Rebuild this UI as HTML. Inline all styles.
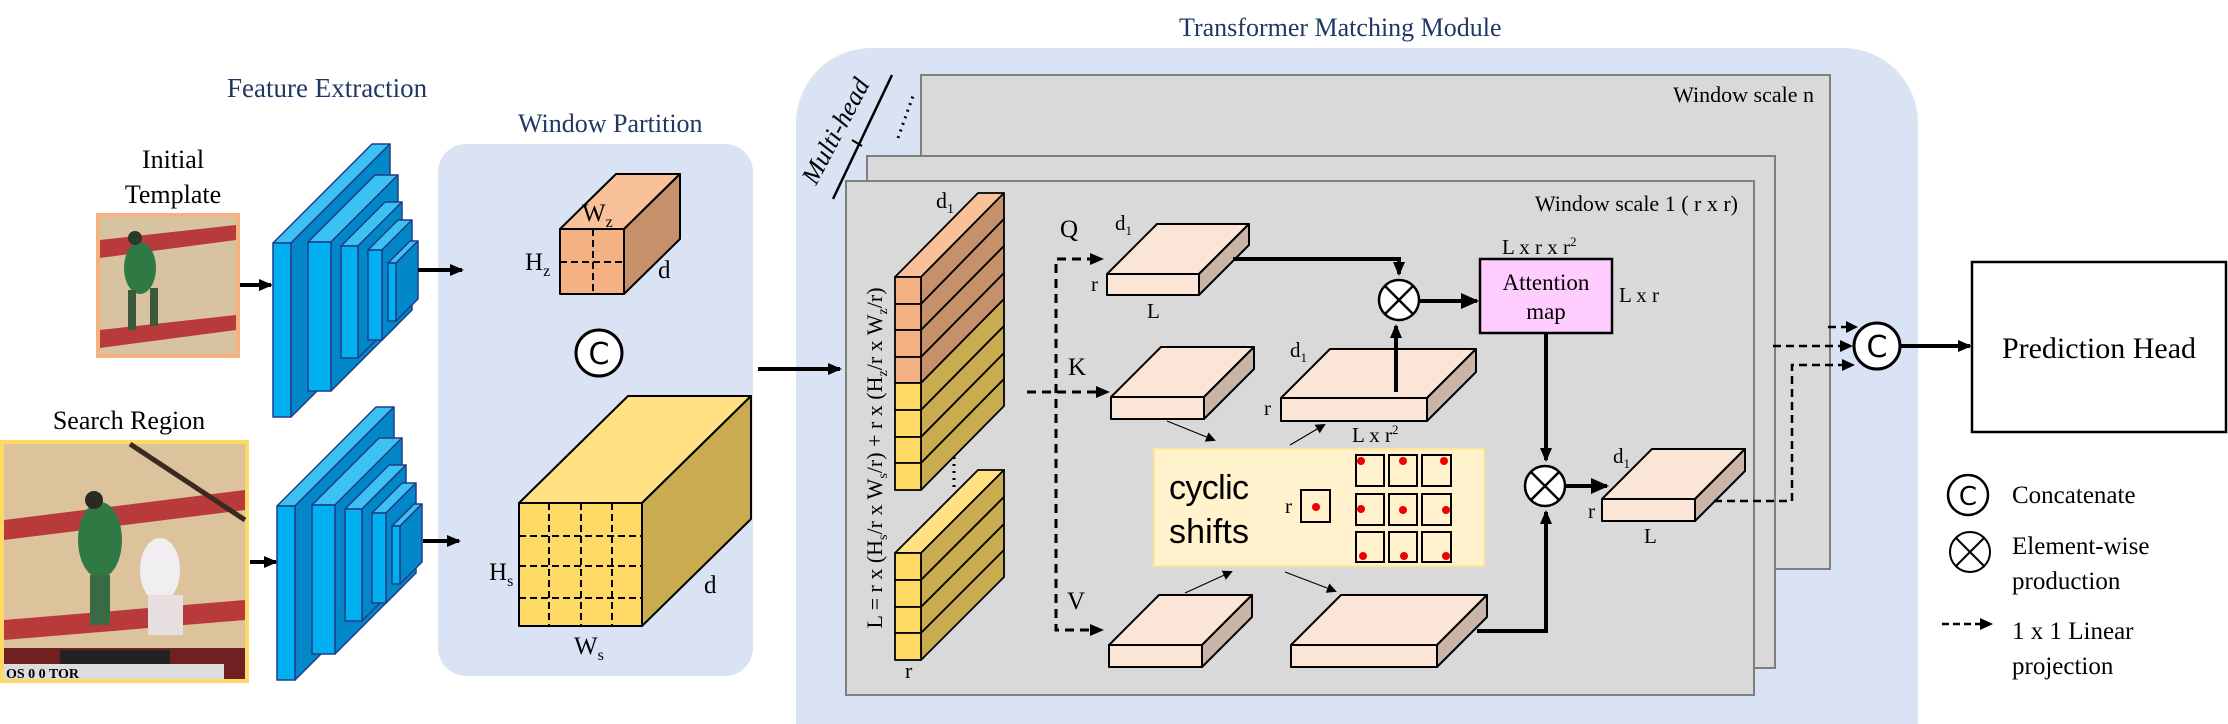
<!DOCTYPE html>
<html><head><meta charset="utf-8"><style>
html,body{margin:0;padding:0;background:#fff;}
svg{display:block;}
text{font-family:"Liberation Serif",serif;fill:#000;}
</style></head><body>
<svg width="2228" height="724" viewBox="0 0 2228 724" xmlns="http://www.w3.org/2000/svg">
<defs>
<marker id="ah" markerWidth="10" markerHeight="10" refX="8" refY="5" orient="auto" markerUnits="userSpaceOnUse"><path d="M0,0 L10,5 L0,10 z" fill="#000"/></marker>
<marker id="ahb" markerWidth="18" markerHeight="16" refX="16" refY="8" orient="auto" markerUnits="userSpaceOnUse"><path d="M0,0 L18,8 L0,16 z" fill="#000"/></marker>
<marker id="ahm" markerWidth="14" markerHeight="12" refX="12" refY="6" orient="auto" markerUnits="userSpaceOnUse"><path d="M0,0 L14,6 L0,12 z" fill="#000"/></marker>
</defs>

<!-- titles -->
<text x="227" y="97" font-size="27" style="fill:#1f3864">Feature Extraction</text>
<text x="518" y="132" font-size="26" style="fill:#1f3864">Window Partition</text>
<text x="1179" y="36" font-size="26" style="fill:#1f3864">Transformer Matching Module</text>

<!-- inputs -->
<text x="173" y="168" font-size="26" text-anchor="middle">Initial</text>
<text x="173" y="203" font-size="26" text-anchor="middle">Template</text>
<text x="129" y="429" font-size="26" text-anchor="middle">Search Region</text>

<!-- template photo -->
<g>
<rect x="96" y="213" width="144" height="145" fill="#f4b183"/>
<rect x="100" y="217" width="136" height="137" fill="#d8c3a0"/>
<polygon points="100,240 236,225 236,240 100,258" fill="#b83a3a"/>
<polygon points="100,330 236,315 236,330 100,348" fill="#b83a3a"/>
<ellipse cx="140" cy="268" rx="16" ry="26" fill="#2f7a44"/>
<circle cx="135" cy="238" r="7" fill="#2a3a2a"/>
<rect x="128" y="290" width="8" height="40" fill="#3a5a3a"/>
<rect x="150" y="288" width="8" height="38" fill="#3a5a3a"/>
</g>
<!-- search photo -->
<g>
<rect x="0" y="440" width="249" height="243" fill="#ffd966"/>
<rect x="4" y="444" width="241" height="235" fill="#dcc39c"/>
<polygon points="4,520 245,490 245,510 4,540" fill="#b83a3a"/>
<polygon points="4,620 245,600 245,620 4,640" fill="#b83a3a"/>
<line x1="130" y1="444" x2="245" y2="520" stroke="#3a2a20" stroke-width="5"/>
<ellipse cx="100" cy="540" rx="22" ry="38" fill="#2f7a44"/>
<circle cx="94" cy="500" r="9" fill="#2a2a20"/>
<rect x="90" y="575" width="20" height="50" fill="#3a6a44"/>
<ellipse cx="160" cy="570" rx="20" ry="32" fill="#f0eef0"/>
<rect x="148" y="595" width="35" height="40" fill="#e8e0e0"/>
<rect x="4" y="648" width="241" height="31" fill="#702020"/>
<rect x="60" y="650" width="110" height="14" fill="#222"/>
<rect x="4" y="664" width="220" height="15" fill="#ddd"/>
<text x="6" y="678" font-size="14" font-weight="bold">OS  0    0  TOR</text>
</g>

<!-- arrows inputs -->
<line x1="240" y1="285" x2="271" y2="285" stroke="#000" stroke-width="4" marker-end="url(#ahm)"/>
<line x1="250" y1="562" x2="276" y2="562" stroke="#000" stroke-width="4" marker-end="url(#ahm)"/>

<!-- CNN 1 -->
<g stroke="#1f3c88" stroke-width="1.5" stroke-linejoin="round">
<polygon points="273,243 372,144 390,144 291,243" fill="#3dc1f2"/><polygon points="291,243 390,144 390,318 291,417" fill="#0288c8"/><rect x="273" y="243" width="18" height="174" fill="#00b0f0"/>
<polygon points="308,242 375,175 398,175 331,242" fill="#3dc1f2"/><polygon points="331,242 398,175 398,324 331,391" fill="#0288c8"/><rect x="308" y="242" width="23" height="149" fill="#00b0f0"/>
<polygon points="341,246 385,202 402,202 358,246" fill="#3dc1f2"/><polygon points="358,246 402,202 402,314 358,358" fill="#0288c8"/><rect x="341" y="246" width="17" height="112" fill="#00b0f0"/>
<polygon points="368,250 398,220 412,220 382,250" fill="#3dc1f2"/><polygon points="382,250 412,220 412,310 382,340" fill="#0288c8"/><rect x="368" y="250" width="14" height="90" fill="#00b0f0"/>
<polygon points="388,263 410,241 418,241 396,263" fill="#3dc1f2"/><polygon points="396,263 418,241 418,299 396,321" fill="#0288c8"/><rect x="388" y="263" width="8" height="58" fill="#00b0f0"/>
</g>
<!-- CNN 2 -->
<g stroke="#1f3c88" stroke-width="1.5" stroke-linejoin="round" transform="translate(4,263)">
<polygon points="273,243 372,144 390,144 291,243" fill="#3dc1f2"/><polygon points="291,243 390,144 390,318 291,417" fill="#0288c8"/><rect x="273" y="243" width="18" height="174" fill="#00b0f0"/>
<polygon points="308,242 375,175 398,175 331,242" fill="#3dc1f2"/><polygon points="331,242 398,175 398,324 331,391" fill="#0288c8"/><rect x="308" y="242" width="23" height="149" fill="#00b0f0"/>
<polygon points="341,246 385,202 402,202 358,246" fill="#3dc1f2"/><polygon points="358,246 402,202 402,314 358,358" fill="#0288c8"/><rect x="341" y="246" width="17" height="112" fill="#00b0f0"/>
<polygon points="368,250 398,220 412,220 382,250" fill="#3dc1f2"/><polygon points="382,250 412,220 412,310 382,340" fill="#0288c8"/><rect x="368" y="250" width="14" height="90" fill="#00b0f0"/>
<polygon points="388,263 410,241 418,241 396,263" fill="#3dc1f2"/><polygon points="396,263 418,241 418,299 396,321" fill="#0288c8"/><rect x="388" y="263" width="8" height="58" fill="#00b0f0"/>
</g>

<!-- Window partition panel -->
<rect x="438" y="144" width="315" height="532" rx="28" fill="#dae3f3"/>
<line x1="418" y1="270" x2="462" y2="270" stroke="#000" stroke-width="4" marker-end="url(#ahm)"/>
<line x1="423" y1="541" x2="459" y2="541" stroke="#000" stroke-width="4" marker-end="url(#ahm)"/>
<g stroke="#000" stroke-width="2" stroke-linejoin="round">
<polygon points="560,229 616,174 680,174 624,229" fill="#f8c19a"/>
<polygon points="624,229 680,174 680,239 624,294" fill="#c5906a"/>
<rect x="560" y="229" width="64" height="65" fill="#f4b183"/>
</g>
<g stroke="#000" stroke-width="2" stroke-dasharray="7,4">
<line x1="593" y1="229" x2="593" y2="294"/><line x1="560" y1="262" x2="624" y2="262"/>
</g>
<text x="582" y="221" font-size="25">W<tspan font-size="16" dy="6">z</tspan></text>
<text x="525" y="270" font-size="25">H<tspan font-size="16" dy="6">z</tspan></text>
<text x="658" y="278" font-size="25">d</text>
<circle cx="599" cy="353" r="23" fill="#fff" stroke="#000" stroke-width="3"/>
<text x="599" y="364" font-size="30" text-anchor="middle" style="font-family:'DejaVu Sans',sans-serif">C</text>
<g stroke="#000" stroke-width="2" stroke-linejoin="round">
<polygon points="519,503 628,396 751,396 642,503" fill="#ffe083"/>
<polygon points="642,503 751,396 751,519 642,626" fill="#c9ab50"/>
<rect x="519" y="503" width="123" height="123" fill="#ffd966"/>
</g>
<g stroke="#000" stroke-width="2" stroke-dasharray="7,4">
<line x1="549" y1="503" x2="549" y2="626"/><line x1="581" y1="503" x2="581" y2="626"/><line x1="612" y1="503" x2="612" y2="626"/>
<line x1="519" y1="536" x2="642" y2="536"/><line x1="519" y1="566" x2="642" y2="566"/><line x1="519" y1="598" x2="642" y2="598"/>
</g>
<text x="489" y="580" font-size="25">H<tspan font-size="16" dy="6">s</tspan></text>
<text x="704" y="593" font-size="25">d</text>
<text x="574" y="654" font-size="25">W<tspan font-size="16" dy="6">s</tspan></text>

<!-- Transformer panel -->
<path d="M871,48 H1843 A75,75 0 0 1 1918,123 V724 H796 V123 A75,75 0 0 1 871,48 Z" fill="#dae3f3"/>
<line x1="758" y1="369" x2="840" y2="369" stroke="#000" stroke-width="4" marker-end="url(#ahm)"/>
<rect x="921" y="75" width="909" height="494" fill="#d9d9d9" stroke="#7f7f7f" stroke-width="2"/>
<rect x="867" y="156" width="908" height="512" fill="#d9d9d9" stroke="#7f7f7f" stroke-width="2"/>
<rect x="846" y="181" width="908" height="514" fill="#d9d9d9" stroke="#7f7f7f" stroke-width="2"/>
<text x="1814" y="102" font-size="22" text-anchor="end">Window scale n</text>
<text x="1738" y="211" font-size="22" text-anchor="end">Window scale 1 ( r x r)</text>
<!-- multi-head -->
<line x1="833" y1="199" x2="892" y2="75" stroke="#000" stroke-width="2.5"/>
<line x1="852" y1="140" x2="862" y2="146" stroke="#000" stroke-width="2"/>
<text x="0" y="0" font-size="26" font-style="italic" transform="translate(816,186) rotate(-62)">Multi-head</text>
<line x1="898" y1="138" x2="913" y2="96" stroke="#000" stroke-width="3" stroke-dasharray="2,5"/>

<!-- token column -->
<g stroke="#000" stroke-width="1.8" stroke-linejoin="round">
<polygon points="895,277 978,193 1004,193 921,277" fill="#f8c19a"/>
<polygon points="921,277 1004,193 1004,219 921,304" fill="#c5906a"/>
<polygon points="921,304 1004,219 1004,246 921,330" fill="#c5906a"/>
<polygon points="921,330 1004,246 1004,273 921,357" fill="#c5906a"/>
<polygon points="921,357 1004,273 1004,299 921,383" fill="#c5906a"/>
<polygon points="921,383 1004,299 1004,326 921,410" fill="#c9ab50"/>
<polygon points="921,410 1004,326 1004,353 921,437" fill="#c9ab50"/>
<polygon points="921,437 1004,353 1004,379 921,463" fill="#c9ab50"/>
<polygon points="921,463 1004,379 1004,406 921,490" fill="#c9ab50"/>
<rect x="895" y="277" width="26" height="27" fill="#f4b183"/>
<rect x="895" y="304" width="26" height="26" fill="#f4b183"/>
<rect x="895" y="330" width="26" height="27" fill="#f4b183"/>
<rect x="895" y="357" width="26" height="26" fill="#f4b183"/>
<rect x="895" y="383" width="26" height="27" fill="#ffd966"/>
<rect x="895" y="410" width="26" height="27" fill="#ffd966"/>
<rect x="895" y="437" width="26" height="26" fill="#ffd966"/>
<rect x="895" y="463" width="26" height="27" fill="#ffd966"/>
<polygon points="895,553 978,470 1004,470 921,553" fill="#ffe083"/>
<polygon points="921,553 1004,470 1004,497 921,580" fill="#c9ab50"/>
<polygon points="921,580 1004,497 1004,524 921,607" fill="#c9ab50"/>
<polygon points="921,607 1004,524 1004,550 921,633" fill="#c9ab50"/>
<polygon points="921,633 1004,550 1004,577 921,660" fill="#c9ab50"/>
<rect x="895" y="553" width="26" height="27" fill="#ffd966"/>
<rect x="895" y="580" width="26" height="27" fill="#ffd966"/>
<rect x="895" y="607" width="26" height="26" fill="#ffd966"/>
<rect x="895" y="633" width="26" height="27" fill="#ffd966"/>
</g>
<line x1="954" y1="457" x2="954" y2="488" stroke="#000" stroke-width="3" stroke-dasharray="2,5"/>
<text x="936" y="208" font-size="22">d<tspan font-size="14" dy="5">1</tspan></text>
<text x="905" y="678" font-size="22">r</text>
<text x="0" y="0" font-size="22" text-anchor="middle" transform="translate(882,458) rotate(-90)">L = r x (H<tspan font-size="14" dy="5">s</tspan><tspan dy="-5">/r x W</tspan><tspan font-size="14" dy="5">s</tspan><tspan dy="-5">/r)  + r x (H</tspan><tspan font-size="14" dy="5">z</tspan><tspan dy="-5">/r x W</tspan><tspan font-size="14" dy="5">z</tspan><tspan dy="-5">/r)</tspan></text>

<!-- QKV dashed -->
<g stroke="#000" stroke-width="3" stroke-dasharray="9,6" fill="none">
<polyline points="1096,259 1056,259 1056,630 1096,630"/>
<line x1="1027" y1="392" x2="1102" y2="392"/>
</g>
<path d="M1090,253 L1104,259 L1090,265 z"/><path d="M1096,386 L1110,392 L1096,398 z"/><path d="M1090,624 L1104,630 L1090,636 z"/>
<text x="1060" y="237" font-size="25">Q</text>
<text x="1068" y="375" font-size="25">K</text>
<text x="1067" y="609" font-size="25">V</text>

<!-- slabs -->
<g stroke="#000" stroke-width="2" stroke-linejoin="round">
<polygon points="1107,274 1157,224 1249,224 1199,274" fill="#fbe5d6"/><polygon points="1199,274 1249,224 1249,245 1199,295" fill="#c9b5a8"/><rect x="1107" y="274" width="92" height="21" fill="#fbe5d6"/>
<polygon points="1111,397 1161,347 1254,347 1204,397" fill="#fbe5d6"/><polygon points="1204,397 1254,347 1254,369 1204,419" fill="#c9b5a8"/><rect x="1111" y="397" width="93" height="22" fill="#fbe5d6"/>
<polygon points="1109,645 1159,595 1252,595 1202,645" fill="#fbe5d6"/><polygon points="1202,645 1252,595 1252,617 1202,667" fill="#c9b5a8"/><rect x="1109" y="645" width="93" height="22" fill="#fbe5d6"/>
<polygon points="1281,398 1330,349 1476,349 1427,398" fill="#fbe5d6"/><polygon points="1427,398 1476,349 1476,372 1427,421" fill="#c9b5a8"/><rect x="1281" y="398" width="146" height="23" fill="#fbe5d6"/>
<polygon points="1291,645 1341,595 1487,595 1437,645" fill="#fbe5d6"/><polygon points="1437,645 1487,595 1487,617 1437,667" fill="#c9b5a8"/><rect x="1291" y="645" width="146" height="22" fill="#fbe5d6"/>
<polygon points="1602,499 1652,449 1745,449 1695,499" fill="#fbe5d6"/><polygon points="1695,499 1745,449 1745,471 1695,521" fill="#c9b5a8"/><rect x="1602" y="499" width="93" height="22" fill="#fbe5d6"/>
</g>
<text x="1115" y="230" font-size="21">d<tspan font-size="13" dy="5">1</tspan></text>
<text x="1091" y="291" font-size="21">r</text>
<text x="1147" y="318" font-size="21">L</text>
<text x="1290" y="357" font-size="21">d<tspan font-size="13" dy="5">1</tspan></text>
<text x="1264" y="415" font-size="21">r</text>
<text x="1352" y="442" font-size="21">L x r<tspan font-size="13" dy="-8">2</tspan></text>
<text x="1613" y="463" font-size="21">d<tspan font-size="13" dy="5">1</tspan></text>
<text x="1588" y="518" font-size="21">r</text>
<text x="1644" y="543" font-size="21">L</text>

<!-- thick connectors -->
<g stroke="#000" stroke-width="4" fill="none">
<polyline points="1233,259 1399,259 1399,274" marker-end="url(#ahm)"/>
<line x1="1396" y1="392" x2="1396" y2="326" marker-end="url(#ahm)"/>
<line x1="1420" y1="301" x2="1477" y2="301" marker-end="url(#ahb)"/>
<line x1="1546" y1="333" x2="1546" y2="460" marker-end="url(#ahm)"/>
<line x1="1565" y1="486" x2="1607" y2="486" marker-end="url(#ahb)"/>
<polyline points="1477,631 1546,631 1546,512" marker-end="url(#ahm)"/>
</g>
<g stroke="#000" stroke-width="2.5" fill="#fff">
<circle cx="1399" cy="300" r="20"/><line x1="1385" y1="286" x2="1413" y2="314"/><line x1="1413" y1="286" x2="1385" y2="314"/>
<circle cx="1545" cy="486" r="20"/><line x1="1531" y1="472" x2="1559" y2="500"/><line x1="1559" y1="472" x2="1531" y2="500"/>
</g>
<rect x="1480" y="259" width="132" height="74" fill="#ffccff" stroke="#000" stroke-width="2.5"/>
<text x="1546" y="290" font-size="23" text-anchor="middle">Attention</text>
<text x="1546" y="319" font-size="23" text-anchor="middle">map</text>
<text x="1502" y="254" font-size="21">L x r x r<tspan font-size="13" dy="-8">2</tspan></text>
<text x="1619" y="302" font-size="21">L x r</text>

<!-- cyclic shifts -->
<rect x="1154" y="449" width="330" height="117" fill="#fff2cc" stroke="#ffe699" stroke-width="2"/>
<text x="1169" y="499" font-size="34" style="font-family:'Liberation Sans Narrow','Liberation Sans',sans-serif" textLength="80">cyclic</text>
<text x="1169" y="543" font-size="34" style="font-family:'Liberation Sans Narrow','Liberation Sans',sans-serif" textLength="80">shifts</text>
<text x="1285" y="513" font-size="21">r</text>
<rect x="1301" y="490" width="29" height="32" fill="none" stroke="#000" stroke-width="2"/>
<circle cx="1316" cy="507" r="4" fill="#e00"/>
<g fill="none" stroke="#000" stroke-width="2">
<rect x="1356" y="455" width="28" height="31"/><rect x="1389" y="455" width="28" height="31"/><rect x="1422" y="455" width="29" height="31"/>
<rect x="1356" y="494" width="28" height="31"/><rect x="1389" y="494" width="28" height="31"/><rect x="1422" y="494" width="29" height="31"/>
<rect x="1356" y="532" width="28" height="30"/><rect x="1389" y="532" width="28" height="30"/><rect x="1422" y="532" width="29" height="30"/>
</g>
<g fill="#e00">
<circle cx="1361" cy="461" r="4"/><circle cx="1403" cy="461" r="4"/><circle cx="1444" cy="461" r="4"/>
<circle cx="1361" cy="509" r="4"/><circle cx="1403" cy="510" r="4"/><circle cx="1446" cy="510" r="4"/>
<circle cx="1363" cy="556" r="4"/><circle cx="1404" cy="556" r="4"/><circle cx="1446" cy="556" r="4"/>
</g>
<g stroke="#000" stroke-width="1.2">
<line x1="1167" y1="421" x2="1214" y2="440" marker-end="url(#ah)"/>
<line x1="1290" y1="445" x2="1324" y2="425" marker-end="url(#ah)"/>
<line x1="1185" y1="593" x2="1231" y2="572" marker-end="url(#ah)"/>
<line x1="1285" y1="572" x2="1335" y2="591" marker-end="url(#ah)"/>
</g>

<!-- output dashed to concat -->
<g stroke="#000" stroke-width="2.5" stroke-dasharray="8,5" fill="none">
<line x1="1828" y1="327" x2="1850" y2="327"/>
<line x1="1773" y1="346" x2="1844" y2="346"/>
<polyline points="1714,501 1792,501 1792,365 1846,365"/>
</g>
<path d="M1846,321 L1858,327 L1846,333 z"/><path d="M1840,340 L1853,346 L1840,352 z"/><path d="M1842,359 L1855,365 L1842,371 z"/>
<circle cx="1877" cy="346" r="23" fill="#fff" stroke="#000" stroke-width="3"/>
<text x="1877" y="357" font-size="30" text-anchor="middle" style="font-family:'DejaVu Sans',sans-serif">C</text>
<line x1="1900" y1="346" x2="1970" y2="346" stroke="#000" stroke-width="4" marker-end="url(#ahm)"/>
<rect x="1972" y="262" width="254" height="170" fill="#fff" stroke="#000" stroke-width="2.5"/>
<text x="2099" y="358" font-size="30" text-anchor="middle">Prediction Head</text>

<!-- legend -->
<circle cx="1968" cy="495" r="20" fill="#fff" stroke="#000" stroke-width="2.5"/>
<text x="1968" y="505" font-size="26" text-anchor="middle" style="font-family:'DejaVu Sans',sans-serif">C</text>
<text x="2012" y="503" font-size="25">Concatenate</text>
<g stroke="#000" stroke-width="2" fill="#fff">
<circle cx="1970" cy="552" r="20"/><line x1="1956" y1="538" x2="1984" y2="566"/><line x1="1984" y1="538" x2="1956" y2="566"/>
</g>
<text x="2012" y="554" font-size="25">Element-wise</text>
<text x="2012" y="589" font-size="25">production</text>
<line x1="1942" y1="624" x2="1982" y2="624" stroke="#000" stroke-width="2.5" stroke-dasharray="7,4"/>
<path d="M1980,618 L1993,624 L1980,630 z"/>
<text x="2012" y="639" font-size="25">1 x 1 Linear</text>
<text x="2012" y="674" font-size="25">projection</text>
</svg>
</body></html>
